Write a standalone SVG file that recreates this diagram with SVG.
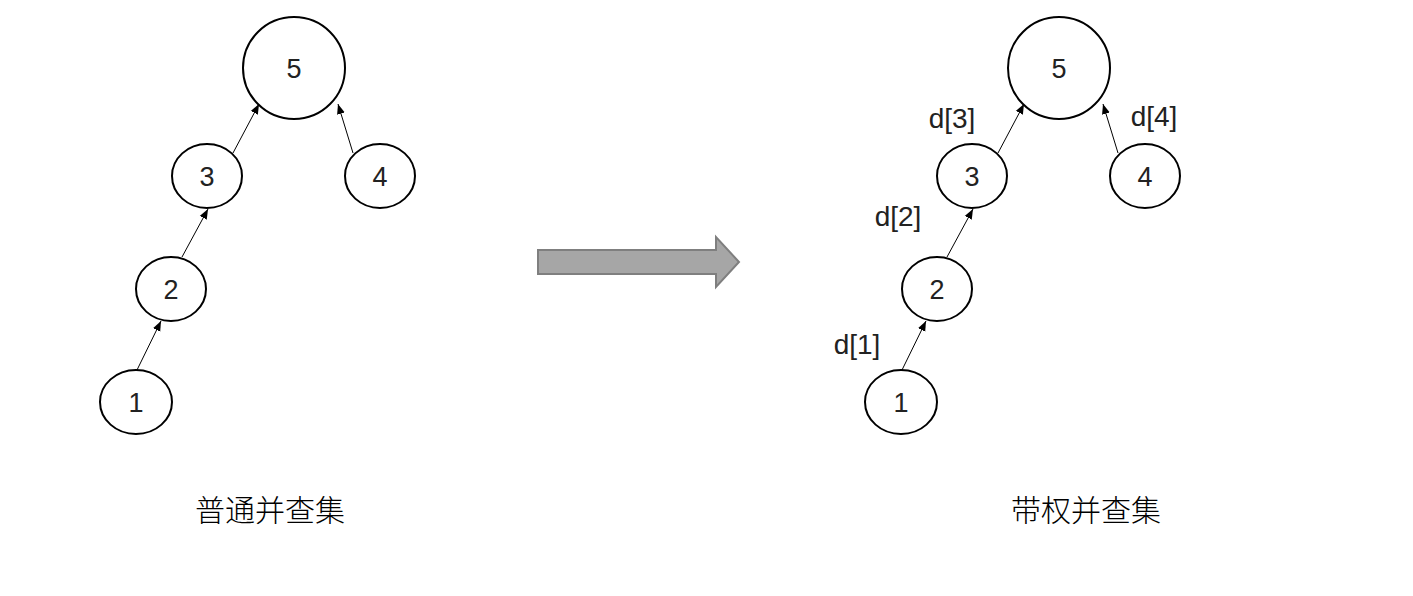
<svg xmlns="http://www.w3.org/2000/svg" width="1413" height="596" viewBox="0 0 1413 596">
<style>
.n{fill:#fff;stroke:#000;stroke-width:2}
.t{font-family:"Liberation Sans",Arial,sans-serif;font-size:27px;fill:#222;text-anchor:middle;dominant-baseline:central}
.e{stroke:#000;stroke-width:1;fill:none;marker-end:url(#ah)}
.l{font-family:"Liberation Sans",Arial,sans-serif;font-size:28px;fill:#222;text-anchor:middle;dominant-baseline:central}
.c{font-family:"Noto Sans CJK SC",sans-serif;font-size:30px;font-weight:300;fill:#000;text-anchor:middle;dominant-baseline:central}
</style>
<defs>
<marker id="ah" viewBox="0 0 10 10" refX="10" refY="5" markerWidth="10" markerHeight="10" markerUnits="userSpaceOnUse" orient="auto">
<path d="M0,1 L10,5 L0,9 Z" fill="#000"/>
</marker>
</defs>
<rect width="1413" height="596" fill="#fff"/>
<g id="connectors">
<line class="e" x1="137" y1="370" x2="161" y2="321"/>
<line class="e" x1="182" y1="257" x2="208" y2="209"/>
<line class="e" x1="233" y1="153" x2="259" y2="104"/>
<line class="e" x1="353" y1="153" x2="338" y2="104"/>
<line class="e" x1="902" y1="370" x2="926" y2="321"/>
<line class="e" x1="947" y1="257" x2="973" y2="209"/>
<line class="e" x1="998" y1="153" x2="1024" y2="104"/>
<line class="e" x1="1118" y1="153" x2="1103" y2="104"/>
</g>
<g id="L5"><circle class="n" cx="294" cy="68" r="51"/><text class="t" x="294" y="69">5</text></g>
<g id="L3"><ellipse class="n" cx="207" cy="176" rx="35" ry="32"/><text class="t" x="207" y="177">3</text></g>
<g id="L4"><ellipse class="n" cx="380" cy="176" rx="35" ry="32"/><text class="t" x="380" y="177">4</text></g>
<g id="L2"><ellipse class="n" cx="171" cy="289" rx="35" ry="32"/><text class="t" x="171" y="290">2</text></g>
<g id="L1"><ellipse class="n" cx="136" cy="402" rx="36" ry="32"/><text class="t" x="136" y="403">1</text></g>
<g id="R5"><circle class="n" cx="1059" cy="68" r="51"/><text class="t" x="1059" y="69">5</text></g>
<g id="R3"><ellipse class="n" cx="972" cy="176" rx="35" ry="32"/><text class="t" x="972" y="177">3</text></g>
<g id="R4"><ellipse class="n" cx="1145" cy="176" rx="35" ry="32"/><text class="t" x="1145" y="177">4</text></g>
<g id="R2"><ellipse class="n" cx="937" cy="289" rx="35" ry="32"/><text class="t" x="937" y="290">2</text></g>
<g id="R1"><ellipse class="n" cx="901" cy="402" rx="36" ry="32"/><text class="t" x="901" y="403">1</text></g>
<g id="labels">
<text class="l" x="952" y="118">d[3]</text>
<text class="l" x="1154" y="116">d[4]</text>
<text class="l" x="898" y="216">d[2]</text>
<text class="l" x="857" y="344">d[1]</text>
</g>
<g id="bigarrow"><path d="M538,250 H716 V237 L739,262 L716,287 V274 H538 Z" fill="#a6a6a6" stroke="#7f7f7f" stroke-width="2"/></g>
<g id="captions">
<text class="c" x="270" y="508">普通并查集</text>
<text class="c" x="1086" y="508">带权并查集</text>
</g>
</svg>
